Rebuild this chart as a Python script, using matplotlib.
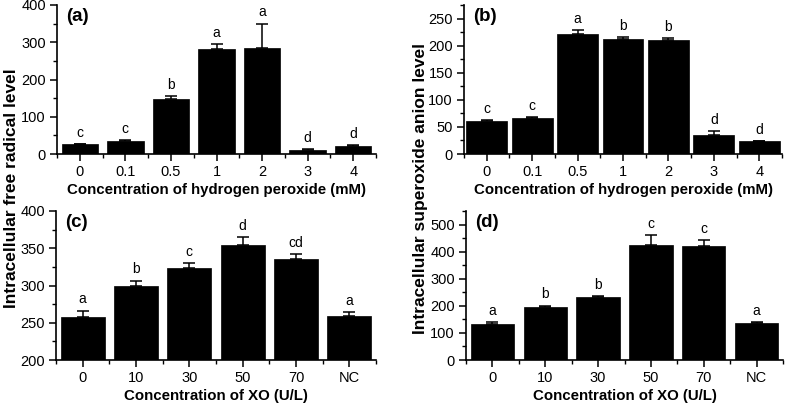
import matplotlib
matplotlib.use('Agg')
import matplotlib.pyplot as plt
import numpy as np
from matplotlib.ticker import MultipleLocator

plt.rcParams['font.family'] = ['Liberation Sans', 'DejaVu Sans']

# hydrogen peroxide panels
h2o2_labels = ['0', '0.1', '0.5', '1', '2', '3', '4']
radical_h2o2 = [26, 35, 148, 282, 284, 11.6, 21]
radical_h2o2_err = [1.5, 2.5, 7, 13, 66, 2.4, 3]
radical_h2o2_sig = ['c', 'c', 'b', 'a', 'a', 'd', 'd']

superoxide_h2o2 = [60, 65.7, 222, 212, 209.5, 35.6, 23.3]
superoxide_h2o2_err = [2, 2, 7, 4, 4.5, 6.2, 1.3]
superoxide_h2o2_sig = ['c', 'c', 'a', 'b', 'b', 'd', 'd']

# xanthine oxidase panels
xo_labels = ['0', '10', '30', '50', '70', 'NC']
radical_xo = [257.4, 300, 323.3, 353.8, 335.9, 259.2]
radical_xo_err = [9, 6.7, 6.7, 11.2, 5.8, 5.4]
radical_xo_sig = ['a', 'b', 'c', 'd', 'cd', 'a']

superoxide_xo = [134, 195, 233, 426, 420, 135]
superoxide_xo_err = [6, 6, 2, 36, 23.5, 6]
superoxide_xo_sig = ['a', 'b', 'b', 'c', 'c', 'a']

W, H = 785, 407
fig = plt.figure(figsize=(W / 100, H / 100), dpi=100)


def make_axes(x0, x1, y0, y1):
    # pixel box -> figure fraction
    return fig.add_axes([x0 / W, 1 - y1 / H, (x1 - x0) / W, (y1 - y0) / H])


def panel(ax, labels, vals, errs, sig, width, ylim, major, minor, tag, xlabel):
    x = np.arange(len(labels))
    ax.bar(x, vals, width=width, color='black', edgecolor='black', linewidth=0.5)
    ax.errorbar(x, vals, yerr=[np.zeros(len(errs)), errs], fmt='none',
                ecolor='black', elinewidth=1.1, capsize=4.5, capthick=1.1)
    for xi, v, e, s in zip(x, vals, errs, sig):
        ax.annotate(s, (xi, v + e), xytext=(0, 3), textcoords='offset points',
                    ha='center', va='bottom', fontsize=10)
    ax.set_xlim(-0.5, len(labels) - 0.5)
    ax.set_ylim(*ylim)
    ax.set_xticks(x)
    ax.set_xticklabels(labels)
    ax.xaxis.set_minor_locator(MultipleLocator(1, offset=0.5))
    ax.yaxis.set_major_locator(MultipleLocator(major))
    ax.yaxis.set_minor_locator(MultipleLocator(minor))
    for s in ['top', 'right']:
        ax.spines[s].set_visible(False)
    for s in ['left', 'bottom']:
        ax.spines[s].set_linewidth(1.2)
    ax.tick_params(axis='both', which='major', direction='out', length=5,
                   width=1.1, labelsize=10.5, pad=3)
    ax.tick_params(axis='both', which='minor', direction='out', length=3,
                   width=1.0)
    ax.text(0.03, 0.92, tag, transform=ax.transAxes, fontsize=13.5,
            fontweight='bold', va='center', ha='left')
    ax.set_xlabel(xlabel, fontsize=10.8, fontweight='bold', labelpad=3)


ax_a = make_axes(57, 376, 5, 154)
panel(ax_a, h2o2_labels, radical_h2o2, radical_h2o2_err, radical_h2o2_sig,
      0.8, (0, 400), 100, 50, '(a)', 'Concentration of hydrogen peroxide (mM)')

ax_b = make_axes(464, 782, 5, 154)
panel(ax_b, h2o2_labels, superoxide_h2o2, superoxide_h2o2_err,
      superoxide_h2o2_sig, 0.9, (0, 275), 50, 25, '(b)',
      'Concentration of hydrogen peroxide (mM)')

ax_c = make_axes(56, 376, 211, 360)
panel(ax_c, xo_labels, radical_xo, radical_xo_err, radical_xo_sig,
      0.83, (200, 400), 50, 25, '(c)', 'Concentration of XO (U/L)')

ax_d = make_axes(466, 783, 211, 360)
panel(ax_d, xo_labels, superoxide_xo, superoxide_xo_err, superoxide_xo_sig,
      0.82, (0, 550), 100, 50, '(d)', 'Concentration of XO (U/L)')

fig.text(12 / W, 1 - 188 / H, 'Intracellular free radical level', rotation=90,
         fontsize=12.5, fontweight='bold', ha='center', va='center')
fig.text(421 / W, 1 - 188 / H, 'Intracellular superoxide anion level',
         rotation=90, fontsize=12.5, fontweight='bold', ha='center',
         va='center')

fig.savefig('out.png', dpi=100)
